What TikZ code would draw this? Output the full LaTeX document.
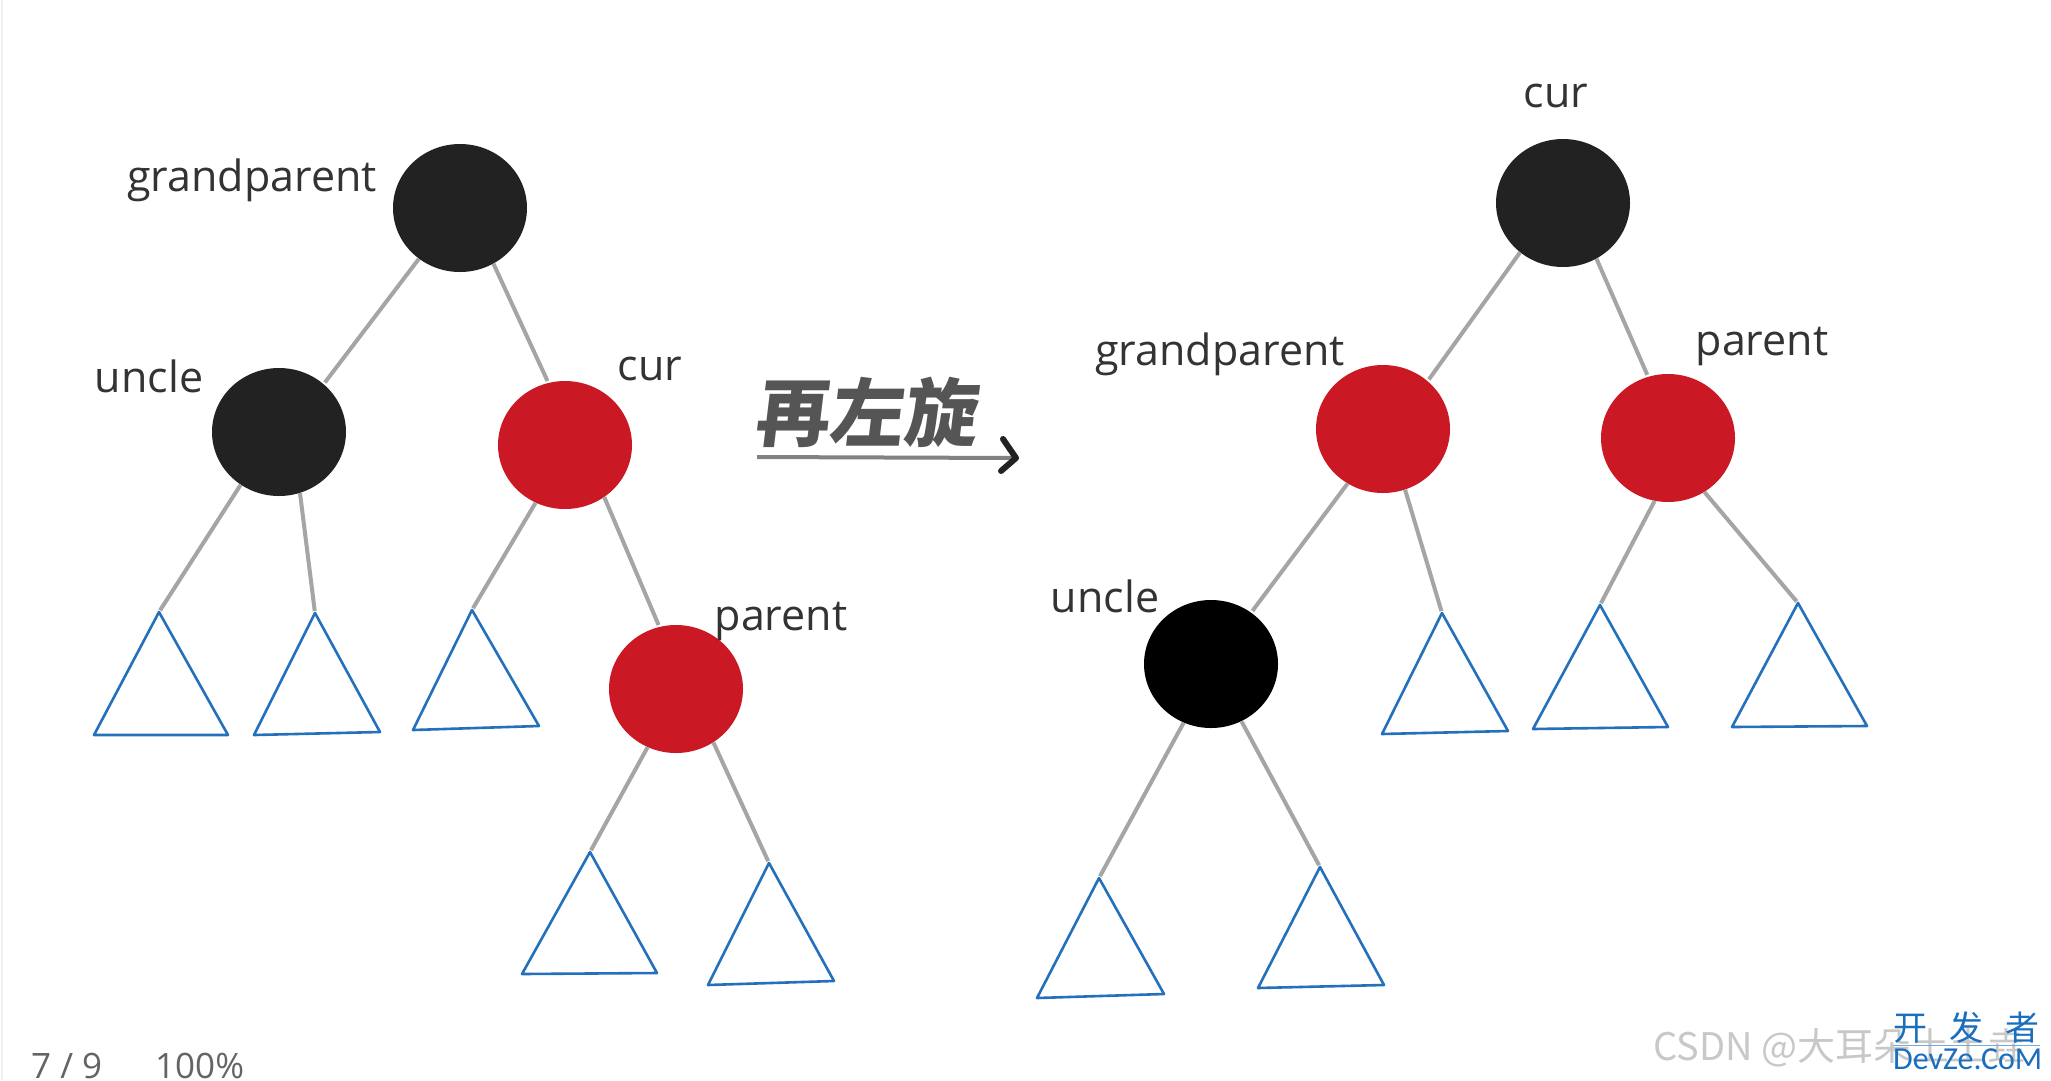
\documentclass[tikz,border=0pt]{standalone}
\usepackage{fontspec}
\usetikzlibrary{shapes.geometric}
\newfontfamily\labfont{Open Sans}
\newfontfamily\cjkfont{Noto Sans CJK SC}
\newfontfamily\brushfont[FakeSlant=0.12]{Noto Sans CJK SC}
\newfontfamily\logofont{Carlito}
\definecolor{rbred}{RGB}{202,24,37}
\definecolor{rbblack}{RGB}{34,34,34}
\definecolor{edgegray}{RGB}{165,165,165}
\definecolor{triblue}{RGB}{36,112,186}
\definecolor{txt}{RGB}{51,51,51}
\definecolor{logoblue}{RGB}{26,110,190}
\definecolor{wmgray}{RGB}{200,200,200}
\definecolor{pagegray}{RGB}{100,100,100}
\definecolor{brushgray}{RGB}{85,85,85}
\definecolor{arrowgray}{RGB}{130,130,130}
\begin{document}
\begin{tikzpicture}[x=1pt,y=-1pt,
  rbnode/.style={ellipse, minimum width=134pt, minimum height=128pt, inner sep=0pt, draw=none},
  blacknode/.style={rbnode, fill=rbblack},
  rednode/.style={rbnode, fill=rbred},
  treeedge/.style={draw=edgegray, line width=4pt, shorten >=2pt},
  tri/.style={draw=triblue, line width=2.6pt, line join=round},
  lbl/.style={font=\labfont\fontsize{43}{50}\selectfont, text=txt, anchor=base, inner sep=0pt}]
\fill[white] (0,0) rectangle (2051,1080);
\useasboundingbox (0,0) rectangle (2051,1080);
\draw[gray!12, line width=2pt] (2,0) -- (2,1080);

% ---------- left tree ----------
\node[blacknode] (gpL) at (460,208) {};
\node[blacknode] (unL) at (279,432) {};
\node[rednode] (curL) at (565,445) {};
\node[rednode] (paL) at (676,689) {};

\coordinate (t1) at (159,612);
\coordinate (t2) at (315,613);
\coordinate (t3) at (472,610);
\coordinate (t4) at (590,852);
\coordinate (t5) at (769,863);
\draw[tri] (t1) -- (94,735) -- (228,735) -- cycle;
\draw[tri] (t2) -- (254,735) -- (380,732) -- cycle;
\draw[tri] (t3) -- (413,730) -- (539,726) -- cycle;
\draw[tri] (t4) -- (522,974) -- (657,973) -- cycle;
\draw[tri] (t5) -- (708,985) -- (834,981) -- cycle;

\draw[treeedge] (gpL.231) -- (unL.47);
\draw[treeedge] (gpL.301) -- (curL.105);
\draw[treeedge] (unL.234) -- (t1);
\draw[treeedge] (unL.289) -- (t2);
\draw[treeedge] (curL.243) -- (t3);
\draw[treeedge] (curL.307) -- (paL.105);
\draw[treeedge] (paL.244) -- (t4);
\draw[treeedge] (paL.305) -- (t5);

\node[lbl] (lgpL) at (252,191) {grandparent};
\node[lbl] (lunL) at (149,392) {uncle};
\node[lbl] (lcurL) at (650,380) {cur};
\node[lbl] (lpaL) at (781,630) {parent};

% ---------- middle ----------
\node[font=\brushfont\bfseries\fontsize{74}{80}\selectfont, text=brushgray, inner sep=0pt] (rot) at (865,412) {再左旋};
\coordinate (arA) at (757,457);
\coordinate (arB) at (1016,458);
\draw[line width=4pt, arrowgray] (arA) -- (arB);
\draw[line width=6pt, rbblack, line cap=round, line join=round] ([shift={(-13,-19)}]arB) -- (arB) -- ([shift={(-15,13)}]arB);

% ---------- right tree ----------
\node[blacknode] (curR) at (1563,203) {};
\node[rednode] (gpR) at (1383,429) {};
\node[rednode] (paR) at (1668,438) {};
\node[rbnode, fill=black] (unR) at (1211,664) {};

\coordinate (t6) at (1099,878);
\coordinate (t7) at (1320,867);
\coordinate (t8) at (1442,613);
\coordinate (t9) at (1600,605);
\coordinate (t10) at (1798,603);
\draw[tri] (t6) -- (1037,998) -- (1164,994) -- cycle;
\draw[tri] (t7) -- (1258,988) -- (1384,985) -- cycle;
\draw[tri] (t8) -- (1382,734) -- (1508,731) -- cycle;
\draw[tri] (t9) -- (1533,729) -- (1668,727) -- cycle;
\draw[tri] (t10) -- (1732,727) -- (1867,726) -- cycle;

\draw[treeedge] (curR.229) -- (gpR.47);
\draw[treeedge] (curR.301) -- (paR.108);
\draw[treeedge] (gpR.237) -- (unR.52);
\draw[treeedge] (gpR.290) -- (t8);
\draw[treeedge] (unR.245) -- (t6);
\draw[treeedge] (unR.298) -- (t7);
\draw[treeedge] (paR.258) -- (t9);
\draw[treeedge] (paR.304) -- (t10);

\node[lbl] (lcurR) at (1556,107) {cur};
\node[lbl] (lgpR) at (1220,365) {grandparent};
\node[lbl] (lpaR) at (1762,355) {parent};
\node[lbl] (lunR) at (1105,612) {uncle};

% ---------- page footer / watermark ----------
\node[font=\labfont\fontsize{35}{40}\selectfont, text=pagegray, anchor=base west, inner sep=0pt] (pg) at (31,1078) {7 / 9};
\node[font=\labfont\fontsize{35}{40}\selectfont, text=pagegray, anchor=base west, inner sep=0pt] (zm) at (155,1078) {100\%};
\node[font=\cjkfont\fontsize{38}{44}\selectfont, text=wmgray, anchor=base west, inner sep=0pt] (wm) at (1653,1060) {CSDN @大耳朵土土垚};
\node[font=\cjkfont\fontsize{34}{40}\selectfont, text=logoblue, anchor=base west, inner sep=0pt] (logo1) at (1893,1040) {开\hspace{22pt}发\hspace{22pt}者};
\draw[logoblue!60, line width=1pt] (1893,1045) -- (2040,1045);
\node[font=\logofont\fontsize{32}{36}\selectfont, text=logoblue, anchor=base west, inner sep=0pt] (logo2) at (1893,1069) {DevZe.CoM};
\end{tikzpicture}
\end{document}
